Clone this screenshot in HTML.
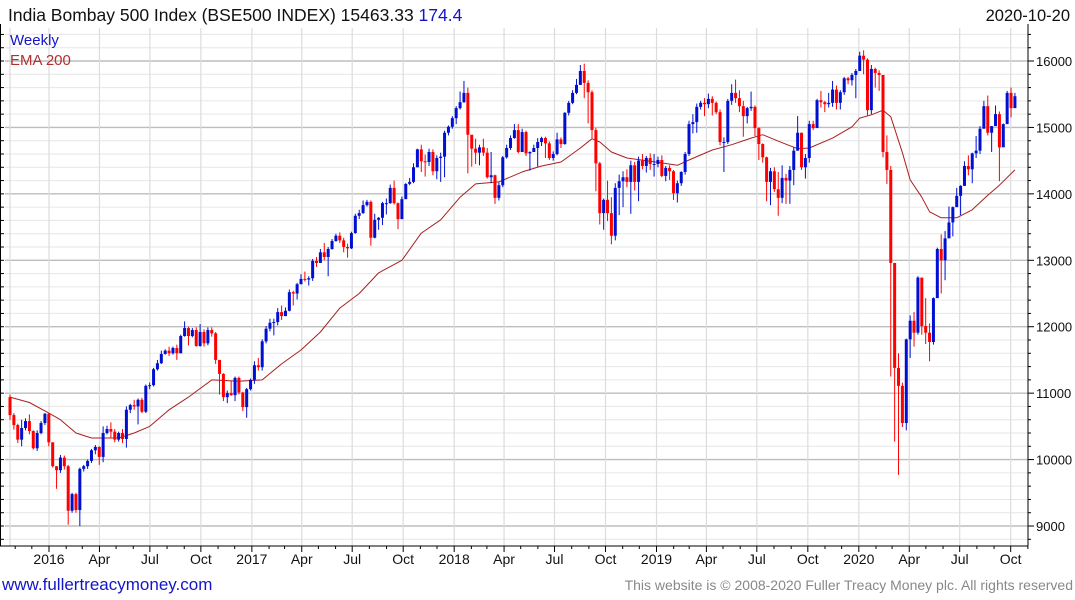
<!DOCTYPE html>
<html><head><meta charset="utf-8"><style>
body{margin:0;background:#fff;font-family:"Liberation Sans",sans-serif}
svg{display:block}
</style></head><body>
<svg id="c" width="1075" height="600" xmlns="http://www.w3.org/2000/svg">
<text x="8" y="21" font-size="17.5" fill="#111">India Bombay 500 Index (BSE500 INDEX) 15463.33 <tspan fill="#1515c8">174.4</tspan></text>
<text x="1070" y="21" font-size="16.5" fill="#111" text-anchor="end">2020-10-20</text>
<text x="1073" y="590" font-size="14" fill="#888" text-anchor="end">This website is © 2008-2020 Fuller Treacy Money plc. All rights reserved</text>
<text x="2" y="590" font-size="17" fill="#1515c8">www.fullertreacymoney.com</text>
</svg>
<script>
const closes=[10670,10520,10300,10475,10580,10430,10170,10400,10550,10690,10260,9900,9840,10030,9900,9230,9480,9240,9860,9900,9980,10140,10190,10040,10400,10460,10420,10300,10400,10310,10750,10820,10800,10900,10720,11110,11120,11360,11450,11590,11640,11600,11680,11600,11860,11980,11860,11950,11710,11920,11750,11950,11900,11500,11290,10940,11000,10970,11230,11010,10790,11060,11200,11420,11390,11780,11970,12060,12070,12220,12160,12240,12520,12500,12640,12720,12710,12730,12990,12960,13120,13050,13170,13290,13370,13300,13200,13180,13410,13670,13710,13830,13880,13340,13610,13640,13860,13860,14090,13860,13620,13920,14150,14180,14400,14670,14490,14480,14630,14340,14540,14560,14920,15010,15140,15290,15380,15520,14890,14680,14620,14700,14620,14250,14280,13940,14130,14550,14690,14840,14960,14630,14930,14610,14630,14690,14780,14840,14760,14540,14600,14820,14750,15220,15370,15520,15640,15850,15670,15530,14960,14460,13710,13910,13710,13370,14090,14190,14250,14180,14430,14180,14500,14420,14540,14450,14450,14510,14270,14390,14340,14010,14160,14330,14600,15050,15080,15310,15370,15350,15430,15370,15230,14780,14780,15400,15520,15440,15320,15170,15290,15310,14990,14750,14550,14180,14340,14070,13940,14240,14200,14360,14650,14920,14400,14540,15050,14990,15410,15380,15350,15370,15570,15370,15530,15740,15710,15790,15850,16080,16020,15260,15880,15820,15790,14630,14360,12960,11380,11110,10550,11810,12090,11910,12740,12010,11910,11770,12430,13170,13000,13330,13570,13800,13970,14120,14420,14370,14610,14650,14980,15320,14920,15020,15200,14700,15050,15520,15290,15470];
const highs=[10980,10700,10540,10600,10620,10680,10440,10440,10580,10700,10700,10260,9900,10070,10060,9920,9500,9500,9880,9920,10000,10160,10220,10200,10500,10510,10560,10460,10420,10460,10800,10840,10900,10920,10930,11130,11160,11380,11500,11640,11660,11700,11700,11730,11880,12080,12000,11980,11990,12040,11960,11990,11990,11920,11500,11300,11040,11190,11250,11250,11020,11080,11220,11480,11530,11810,12010,12120,12120,12280,12320,12290,12560,12540,12660,12790,12830,12760,13020,13050,13170,13260,13200,13320,13400,13420,13340,13250,13430,13700,13760,13900,13910,13900,13700,13650,13880,13930,14140,14200,13870,13960,14160,14240,14460,14680,14740,14590,14680,14670,14580,14620,14950,15030,15170,15320,15540,15700,15600,14840,14830,14740,14830,14690,14630,14290,14170,14570,14740,14880,15050,15050,14980,14950,14640,14740,14840,14860,14860,14790,14640,14920,14850,15230,15400,15560,15730,15940,15960,15710,15560,14990,14480,13930,14200,13950,14160,14290,14340,14370,14500,14480,14560,14600,14570,14610,14600,14560,14580,14420,14430,14360,14200,14340,14630,15100,15200,15360,15400,15440,15510,15470,15390,15270,14850,15430,15650,15720,15560,15400,15310,15540,15330,15000,14760,14560,14390,14400,14330,14430,14300,14420,14700,15170,14920,14600,15100,15100,15430,15550,15400,15520,15700,15630,15560,15760,15760,15820,15880,16140,16160,16040,15940,15900,15860,15790,14880,14420,12640,11600,11160,11820,12170,12220,12760,12430,12430,12050,12440,13190,13390,13440,13810,13810,14090,14130,14490,14580,14620,14870,15020,15400,15480,15020,15330,15240,15060,15550,15600,15520];
const lows=[10600,10450,10250,10200,10440,10380,10150,10130,10380,10520,10200,9880,9560,9800,9850,9020,9200,9200,9000,9820,9860,9950,10080,9920,9960,10380,10320,10260,10270,10250,10180,10700,10750,10530,10700,10700,11060,11100,11340,11440,11580,11560,11580,11500,11600,11850,11720,11840,11700,11700,11700,11720,11850,11440,10980,10880,10850,10960,10880,10980,10730,10630,11040,11140,11340,11340,11750,11930,11870,12020,12100,12160,12230,12320,12410,12640,12680,12620,12690,12900,12960,13000,12760,13160,13280,13260,13120,13040,13170,13400,13620,13700,13810,13220,13330,13460,13530,13690,13850,13840,13470,13620,13930,14130,14160,14400,14330,14260,14420,14280,14220,14180,14250,14880,14980,15050,15270,15370,14310,14410,14450,14430,14570,14230,14160,13850,13900,14100,14530,14660,14830,14610,14630,14570,14350,14630,14410,14720,14540,14510,14500,14580,14690,14740,15180,15350,15500,15640,15440,15060,14840,14040,13540,13460,13590,13240,13300,13680,13800,14100,13700,14050,13890,14370,14320,14360,14260,14400,14250,14190,14210,13910,13870,14120,14290,14570,14910,14920,15270,15170,15290,15180,15200,14730,14330,14750,15340,15370,15230,14860,15060,15250,14870,14510,14470,13890,13830,14030,13670,13860,13850,13850,14130,14650,14360,14230,14470,14960,15000,15300,15230,15300,15310,15270,15270,15490,15650,15630,15440,15850,15800,15180,15200,15600,15550,14550,14150,11250,10270,9770,10490,10440,11530,11700,11880,11880,11740,11480,11730,12550,12500,12700,13340,13360,13890,13680,14170,14280,14160,14540,14600,15050,14880,14630,15080,14190,14750,15060,15150,15380];
const firstOpen=10940;
const emaWeeks=[0,5,10,13,17,21,28,32,36,41,46,52,59,65,70,75,80,85,90,95,101,106,111,116,120,126,132,137,142,147,150,152,155,159,165,172,175,181,186,191,194,199,203,206,212,217,219,222,225,227,230,232,235,237,240,244,248,252,255,259];
const emaValues=[10940,10860,10700,10600,10400,10325,10325,10400,10500,10750,10940,11200,11180,11200,11440,11650,11920,12280,12500,12810,13000,13410,13610,13950,14150,14180,14330,14420,14480,14690,14830,14780,14630,14540,14490,14430,14510,14660,14740,14840,14890,14770,14680,14690,14840,15010,15140,15190,15260,15160,14620,14210,13950,13730,13640,13640,13760,13980,14130,14360];
const yTicks=[9000,10000,11000,12000,13000,14000,15000,16000];
const xTickLabels=["2016","Apr","Jul","Oct","2017","Apr","Jul","Oct","2018","Apr","Jul","Oct","2019","Apr","Jul","Oct","2020","Apr","Jul","Oct"];
const xTickDates=["2016-01-01","2016-04-01","2016-07-01","2016-10-01","2017-01-01","2017-04-01","2017-07-01","2017-10-01","2018-01-01","2018-04-01","2018-07-01","2018-10-01","2019-01-01","2019-04-01","2019-07-01","2019-10-01","2020-01-01","2020-04-01","2020-07-01","2020-10-01"];

const NS="http://www.w3.org/2000/svg";
const svg=document.getElementById('c');
const L=5,R=1028,T=28,B=546;
function y(v){return 61+(16000-v)*0.06643;}
function xi(i){return 10+i*3.88;}
const DAY0=Date.UTC(2016,0,1);
function xd(s){const p=s.split('-');const d=(Date.UTC(+p[0],+p[1]-1,+p[2])-DAY0)/86400000;return 49+d/7*3.88;}
function mk(tag,attrs,parent){const e=document.createElementNS(NS,tag);for(const k in attrs)e.setAttribute(k,attrs[k]);(parent||svg).appendChild(e);return e;}
const g=mk('g',{});


for(let v=8600;v<=16400;v+=200){const yy=y(v);if(yy<T||yy>B)continue;
 const major=v%1000===0;
 const ln=mk('line',{x1:L,x2:R,y1:yy,y2:yy,stroke:major?'#bdbdbd':'#e6e6e6','stroke-width':major?1.4:1},g);
 
 
 const tk=mk('line',{x1:R,x2:R+(major?6:3),y1:yy,y2:yy,stroke:'#000'},g);
 
 
 const tl=mk('line',{x1:0,x2:4,y1:yy,y2:yy,stroke:'#000'},g);
 
 
}
xTickDates.forEach((d,i)=>{const xx=xd(d);
 const ln=mk('line',{x1:xx,x2:xx,y1:T,y2:B,stroke:'#dcdcdc','stroke-width':1.2},g);
 
 
 const t=mk('text',{x:xx,y:564,'font-size':14,'text-anchor':'middle',fill:'#111'});
 t.textContent=xTickLabels[i];
 
 
});
const vl=mk('line',{x1:10,x2:10,y1:T,y2:B,stroke:'#dcdcdc','stroke-width':1.2},g);


for(let yr=2015;yr<=2020;yr++)for(let m=0;m<12;m++){const xx=49+((Date.UTC(yr,m,1)-DAY0)/86400000)/7*3.88;if(xx<L||xx>R)continue;
 const tk=mk('line',{x1:xx,x2:xx,y1:B,y2:B+(m%3===0?6:3),stroke:'#000'},g);
 
 }
yTicks.forEach(v=>{const t=mk('text',{x:1036,y:y(v)+5,'font-size':13,fill:'#111'});
 t.textContent=v;
 
 });
const ax1=mk('line',{x1:R,x2:R,y1:T-4,y2:B,stroke:'#000'});


const ax2=mk('line',{x1:0,x2:R,y1:B,y2:B,stroke:'#000'});


const ax3=mk('line',{x1:0.5,x2:0.5,y1:T-4,y2:B,stroke:'#000'});


let pts=emaWeeks.map((w,i)=>xi(w).toFixed(1)+','+y(emaValues[i]).toFixed(1)).join(' ');
const ema=mk('polyline',{points:pts,fill:'none',stroke:'#a82020','stroke-width':1,'stroke-linejoin':'round'});


const cg=mk('g',{});


closes.forEach((c,i)=>{const o=i===0?firstOpen:closes[i-1];const col=c<o?'#ff0000':'#0010d0';const xx=xi(i);
 const w=mk('line',{x1:xx,x2:xx,y1:y(highs[i]),y2:y(lows[i]),stroke:col,'stroke-width':1},cg);
 
 
 const top=y(Math.max(o,c)),bot=y(Math.min(o,c));
 const r=mk('rect',{x:xx-1.5,y:top,width:3,height:Math.max(1,bot-top),fill:col},cg);
 
 
});
const l1=mk('text',{x:10,y:45,'font-size':15,fill:'#1515c8'});l1.textContent='Weekly';


const l2=mk('text',{x:10,y:65,'font-size':15,fill:'#b03030'});l2.textContent='EMA 200';


</script>
</body></html>
